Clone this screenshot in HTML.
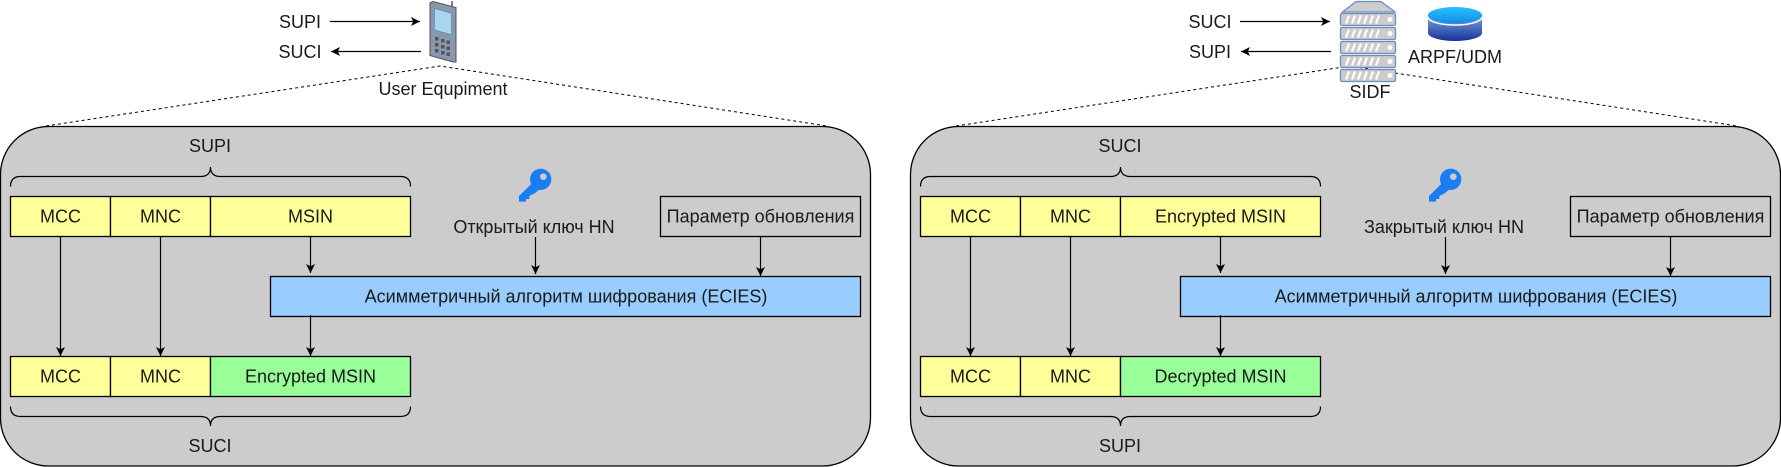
<!DOCTYPE html>
<html><head><meta charset="utf-8"><style>
html,body{margin:0;padding:0;background:#fff;width:1781px;height:467px;overflow:hidden}
svg{display:block}
text{font-family:"Liberation Sans",sans-serif;font-size:18px;fill:#1a1a1a;text-anchor:middle;dominant-baseline:central}
.b{stroke:#000;stroke-width:1.3}
.l{stroke:#000;stroke-width:1.2;fill:none}
.d{stroke:#000;stroke-width:1;stroke-dasharray:3 3;fill:none}
.u{fill:#ccc;stroke:#6c8ebf;stroke-width:1.3}
</style></head><body>
<svg width="1781" height="467" viewBox="0 0 1781 467" xmlns="http://www.w3.org/2000/svg">
<defs>
<marker id="a" markerWidth="12" markerHeight="12" refX="9" refY="5" orient="auto" markerUnits="userSpaceOnUse"><path d="M0,0.500L9,5L0,9.500L2.200,5Z" fill="#000"/></marker>
<linearGradient id="dbt" x1="0" y1="0" x2="0" y2="1"><stop offset="0" stop-color="#2cc0ff"/><stop offset="1" stop-color="#0e8fe6"/></linearGradient>
<linearGradient id="dbb" x1="0" y1="0" x2="0" y2="1"><stop offset="0" stop-color="#7ea6e0"/><stop offset="1" stop-color="#16309a"/></linearGradient>
</defs>

<!-- LEFT PANEL -->
<rect x="0.5" y="126.5" width="870" height="339.5" rx="48" ry="48" fill="#ccc" stroke="#000" stroke-width="1.3"/>
<path class="d" d="M46,126L440,66L827,126"/>
<text x="300" y="22">SUPI</text>
<text x="300" y="52">SUCI</text>
<line class="l" x1="330" y1="21.5" x2="420" y2="21.5" marker-end="url(#a)"/>
<line class="l" x1="421" y1="51.5" x2="331" y2="51.5" marker-end="url(#a)"/>
<!-- phone -->
<line x1="452" y1="1" x2="452" y2="8" stroke="#555" stroke-width="1.5"/>
<polygon points="430,3 433,1.500 456,7.500 456,62 453,62 430,55.500" fill="#8c97a9" stroke="#4a5260" stroke-width="1"/>
<polygon points="434.300,8.300 451.700,13.300 451.700,35 434.300,30" fill="#a9d6ef" stroke="#5a8fb5" stroke-width="1"/>
<g fill="#4f5663">
<rect x="435" y="37" width="3.500" height="3.500"/><rect x="441" y="39" width="3.500" height="3.500"/><rect x="446.500" y="40.500" width="3.500" height="3.500"/>
<rect x="435" y="43" width="3.500" height="3.500"/><rect x="441" y="45" width="3.500" height="3.500"/><rect x="446.500" y="46.500" width="3.500" height="3.500"/>
<rect x="435" y="49" width="3.500" height="3.500"/><rect x="441" y="51" width="3.500" height="3.500"/><rect x="446.500" y="52.500" width="3.500" height="3.500"/>
</g>
<text x="443" y="89">User Equpiment</text>

<text x="210" y="146">SUPI</text>
<path class="l" d="M10.500,186.500Q10.500,176.500 20.500,176.500L200.500,176.500Q210.500,176.500 210.500,167Q210.500,176.500 220.500,176.500L400.500,176.500Q410.500,176.500 410.500,186.500"/>
<rect class="b" x="10.500" y="196.500" width="100" height="40" fill="#ffff99"/>
<rect class="b" x="110.500" y="196.500" width="100" height="40" fill="#ffff99"/>
<rect class="b" x="210.500" y="196.500" width="200" height="40" fill="#ffff99"/>
<text x="60.500" y="216.500">MCC</text><text x="160.500" y="216.500">MNC</text><text x="310.500" y="216.500">MSIN</text>
<g transform="translate(500,160) scale(0.3333)" fill="#1a7df5">
<circle cx="122" cy="58" r="32"/>
<polygon points="98,68 57,108 57,125 78,125 78,117 88,117 88,108 104,100 118,88"/>
<circle cx="130" cy="50" r="10" fill="#ccc"/>
</g>
<text x="534" y="227">Открытый ключ HN</text>
<rect class="b" x="660.500" y="196.500" width="200" height="40" fill="#ccc"/>
<text x="760.500" y="216.500">Параметр обновления</text>
<rect class="b" x="270.500" y="276.500" width="590" height="40" fill="#99ccff"/>
<text x="566" y="296.500">Асимметричный алгоритм шифрования (ECIES)</text>
<line class="l" x1="60.500" y1="236.500" x2="60.500" y2="356" marker-end="url(#a)"/>
<line class="l" x1="160.500" y1="236.500" x2="160.500" y2="356" marker-end="url(#a)"/>
<line class="l" x1="310.500" y1="236.500" x2="310.500" y2="273" marker-end="url(#a)"/>
<line class="l" x1="535.500" y1="237" x2="535.500" y2="274" marker-end="url(#a)"/>
<line class="l" x1="760.500" y1="236.500" x2="760.500" y2="276" marker-end="url(#a)"/>
<line class="l" x1="310.500" y1="315" x2="310.500" y2="356" marker-end="url(#a)"/>
<rect class="b" x="10.500" y="356.500" width="100" height="40" fill="#ffff99"/>
<rect class="b" x="110.500" y="356.500" width="100" height="40" fill="#ffff99"/>
<rect class="b" x="210.500" y="356.500" width="200" height="40" fill="#99ff99"/>
<text x="60.500" y="376.500">MCC</text><text x="160.500" y="376.500">MNC</text><text x="310.500" y="376.500">Encrypted MSIN</text>
<path class="l" d="M10.500,406.500Q10.500,416.500 20.500,416.500L200.500,416.500Q210.500,416.500 210.500,426Q210.500,416.500 220.500,416.500L400.500,416.500Q410.500,416.500 410.500,406.500"/>
<text x="210" y="446">SUCI</text>

<!-- RIGHT PANEL -->
<rect x="910.500" y="126.500" width="870" height="339.500" rx="48" ry="48" fill="#ccc" stroke="#000" stroke-width="1.3"/>
<path class="d" d="M956,126L1350,66L1737,126"/>
<text x="1210" y="22">SUCI</text>
<text x="1210" y="52">SUPI</text>
<line class="l" x1="1240" y1="21.500" x2="1330" y2="21.500" marker-end="url(#a)"/>
<line class="l" x1="1331" y1="51.500" x2="1241" y2="51.500" marker-end="url(#a)"/>
<!-- server -->
<polygon class="u" points="1342.500,12 1356,1.500 1381,1.500 1395,12"/>
<g>
<rect class="u" x="1340.500" y="13.500" width="55" height="12" rx="1.500"/>
<rect class="u" x="1340.500" y="27.500" width="55" height="12" rx="1.500"/>
<rect class="u" x="1340.500" y="41.500" width="55" height="12" rx="1.500"/>
<rect class="u" x="1340.500" y="55.500" width="55" height="12" rx="1.500"/>
<rect class="u" x="1340.500" y="69.500" width="55" height="12" rx="1.500"/>
</g>
<g stroke="#fff" stroke-width="2.200" fill="none">
<path d="M1346,23.500l3,-8M1352,23.500l3,-8M1358,23.500l3,-8M1364,23.500l3,-8M1370,23.500l3,-8M1376,23.500l3,-8"/>
<path d="M1346,37.500l3,-8M1352,37.500l3,-8M1358,37.500l3,-8M1364,37.500l3,-8M1370,37.500l3,-8M1376,37.500l3,-8"/>
<path d="M1346,51.500l3,-8M1352,51.500l3,-8M1358,51.500l3,-8M1364,51.500l3,-8M1370,51.500l3,-8M1376,51.500l3,-8"/>
<path d="M1346,65.500l3,-8M1352,65.500l3,-8M1358,65.500l3,-8M1364,65.500l3,-8M1370,65.500l3,-8M1376,65.500l3,-8"/>
<path d="M1346,79.500l3,-8M1352,79.500l3,-8M1358,79.500l3,-8M1364,79.500l3,-8M1370,79.500l3,-8M1376,79.500l3,-8"/>
</g>
<g fill="#fff"><circle cx="1390" cy="19.500" r="2.500"/><circle cx="1390" cy="33.500" r="2.500"/><circle cx="1390" cy="47.500" r="2.500"/><circle cx="1390" cy="61.500" r="2.500"/><circle cx="1390" cy="75.500" r="2.500"/></g>
<text x="1370" y="92">SIDF</text>
<!-- database -->
<path d="M1428,15V33A27,8 0 0 0 1482,33V15Z" fill="url(#dbb)"/>
<ellipse cx="1455" cy="15" rx="27" ry="8" fill="url(#dbt)"/>
<path d="M1428,17A27,8 0 0 0 1482,17" fill="none" stroke="#fff" stroke-width="1.500"/>
<text x="1455" y="57">ARPF/UDM</text>

<text x="1120" y="146">SUCI</text>
<path class="l" d="M920.500,186.500Q920.500,176.500 930.500,176.500L1110.500,176.500Q1120.500,176.500 1120.500,167Q1120.500,176.500 1130.500,176.500L1310.500,176.500Q1320.500,176.500 1320.500,186.500"/>
<rect class="b" x="920.500" y="196.500" width="100" height="40" fill="#ffff99"/>
<rect class="b" x="1020.500" y="196.500" width="100" height="40" fill="#ffff99"/>
<rect class="b" x="1120.500" y="196.500" width="200" height="40" fill="#ffff99"/>
<text x="970.500" y="216.500">MCC</text><text x="1070.500" y="216.500">MNC</text><text x="1220.500" y="216.500">Encrypted MSIN</text>
<g transform="translate(1410,160) scale(0.3333)" fill="#1a7df5">
<circle cx="122" cy="58" r="32"/>
<polygon points="98,68 57,108 57,125 78,125 78,117 88,117 88,108 104,100 118,88"/>
<circle cx="130" cy="50" r="10" fill="#ccc"/>
</g>
<text x="1444" y="227">Закрытый ключ HN</text>
<rect class="b" x="1570.500" y="196.500" width="200" height="40" fill="#ccc"/>
<text x="1670.500" y="216.500">Параметр обновления</text>
<rect class="b" x="1180.500" y="276.500" width="590" height="40" fill="#99ccff"/>
<text x="1476" y="296.500">Асимметричный алгоритм шифрования (ECIES)</text>
<line class="l" x1="970.500" y1="236.500" x2="970.500" y2="356" marker-end="url(#a)"/>
<line class="l" x1="1070.500" y1="236.500" x2="1070.500" y2="356" marker-end="url(#a)"/>
<line class="l" x1="1220.500" y1="236.500" x2="1220.500" y2="273" marker-end="url(#a)"/>
<line class="l" x1="1445.500" y1="237" x2="1445.500" y2="274" marker-end="url(#a)"/>
<line class="l" x1="1670.500" y1="236.500" x2="1670.500" y2="276" marker-end="url(#a)"/>
<line class="l" x1="1220.500" y1="315" x2="1220.500" y2="356" marker-end="url(#a)"/>
<rect class="b" x="920.500" y="356.500" width="100" height="40" fill="#ffff99"/>
<rect class="b" x="1020.500" y="356.500" width="100" height="40" fill="#ffff99"/>
<rect class="b" x="1120.500" y="356.500" width="200" height="40" fill="#99ff99"/>
<text x="970.500" y="376.500">MCC</text><text x="1070.500" y="376.500">MNC</text><text x="1220.500" y="376.500">Decrypted MSIN</text>
<path class="l" d="M920.500,406.500Q920.500,416.500 930.500,416.500L1110.500,416.500Q1120.500,416.500 1120.500,426Q1120.500,416.500 1130.500,416.500L1310.500,416.500Q1320.500,416.500 1320.500,406.500"/>
<text x="1120" y="446">SUPI</text>
</svg>
</body></html>
